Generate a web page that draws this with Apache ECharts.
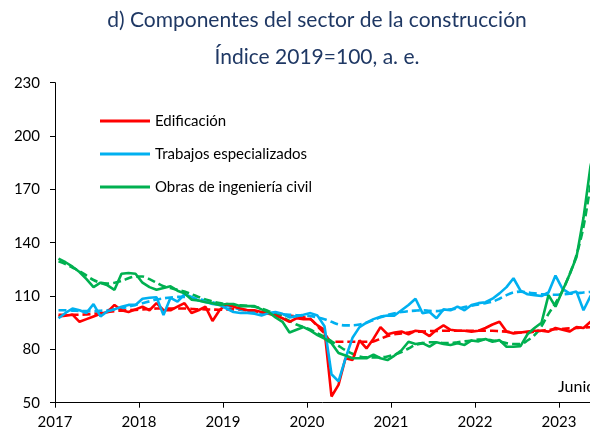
<!DOCTYPE html>
<html>
<head>
<meta charset="utf-8">
<script src="https://cdn.jsdelivr.net/npm/echarts@6/dist/echarts.min.js"></script>
<style>
  html, body { margin: 0; padding: 0; background: #fff; }
  #chart { width: 590px; height: 436px; }
</style>
</head>
<body>
<div id="chart"></div>
<script>
// Monthly data, Jan 2017 .. Jun 2023 (index 0 = Jan 2017)
const yearLabels = ['2017', '2018', '2019', '2020', '2021', '2022', '2023'];
const seriesNames = ['Edificación', 'Trabajos especializados', 'Obras de ingeniería civil'];

const edificacion = [
  98.5, 99, 99.5, 95.5, 97, 98.5, 100, 101, 105, 102, 101, 102.5,
  104, 102, 106, 102, 102, 104, 106, 100.5, 102, 104, 96, 102,
  105.5, 104, 103, 102, 102, 101, 100, 99, 97.5, 95.5, 97.5, 97,
  97, 93.5, 91, 53.5, 60, 75, 74, 85, 80.5, 86, 92.5, 88.5,
  89.5, 90, 88.5, 90.5, 90, 87.5, 91, 93.5, 91, 90.5, 90.5, 90,
  90.5, 92, 94, 95.5, 90, 89, 89.5, 90, 90.5, 90.5, 90, 92,
  91, 90, 92.5, 92, 95.5, 96
];
const edificacionTend = [
  99.5, 99.5, 99.5, 99.5, 99.7, 100, 100.5, 101, 101.5, 101.8, 102, 102.2,
  102.5, 102.7, 103, 103, 103, 103, 103, 102.8, 102.6, 102.5, 102.4, 102.3,
  102.5, 102.5, 102.3, 102, 101.5, 101, 100.5, 100, 99.5, 99, 98.5, 98,
  97, 93, 89, 84.3, 84.3, 84.3, 84.3, 84.3, 84.3, 84.5, 86, 87.5,
  88.5, 89, 89.5, 90, 90, 90.3, 90.3, 90.5, 90.5, 90.5, 90.5, 90.5,
  90.5, 90.5, 90.5, 90.2, 90, 89.5, 89.5, 89.5, 90, 90.5, 91, 91.3,
  91.5, 91.8, 92, 92.3, 92.5, 93
];

const trabajos = [
  97.5, 100.5, 103, 102, 100.5, 105.5, 98.5, 101.5, 102.5, 104, 105, 105,
  108.5, 109, 109.3, 99.3, 109, 106.8, 111, 109.5, 107.5, 106.8, 105.5, 105,
  103, 101, 100.5, 100.5, 100, 99, 100.4, 101, 100, 98, 98.7, 99.5,
  100.4, 99, 93, 66, 62, 75, 86.5, 92.5, 95, 97, 98.4, 99,
  99, 102, 105, 108.5, 100.4, 101, 97.5, 102.5, 102, 104, 102, 105,
  106, 106.5, 108.5, 111.5, 115, 120, 113, 111, 110.5, 110, 112, 121.5,
  114, 111.5, 112.5, 102, 110, 112
];
const trabajosTend = [
  102, 102, 101.8, 101.6, 101.5, 101.5, 101.7, 102, 102.5, 103, 104, 105,
  106, 107, 108, 108.7, 109.2, 109.5, 109.5, 109, 108.3, 107.5, 106.5, 105.5,
  104.5, 103.5, 102.5, 101.8, 101, 100.5, 100.2, 100, 99.7, 99.5, 99.2, 99,
  98.7, 98, 97, 95.5, 94, 93.5, 93.5, 94, 95, 96.5, 98, 99.3,
  100.3, 101, 101.5, 101.8, 102, 101.7, 101.5, 102, 102.5, 103, 103.8, 104.5,
  105.3, 106, 106.8, 108.5, 110.5, 112, 112.5, 112, 111.5, 111, 110.7, 110.7,
  111, 111.3, 111.5, 112, 112.3, 112.5
];

const obras = [
  131, 129, 126.5, 123.5, 119.5, 115, 117.5, 116, 113.5, 122.5, 123, 122.5,
  117.5, 115, 113.5, 114.5, 115.5, 113, 111.5, 108, 107.5, 106.5, 106, 105,
  105.5, 105.5, 104.3, 104.3, 104.3, 102.5, 101, 98, 95.5, 89.5, 91, 92.5,
  90.5, 88, 86, 83.5, 78, 76.5, 75, 75, 75, 77, 75, 74,
  76.5, 79.5, 84.3, 83, 83.5, 81.5, 84, 83, 82.5, 83.5, 82.5, 85,
  84.5, 85.8, 84.3, 85.2, 81.5, 81.5, 81.8, 88.5, 92, 95, 110.5, 104,
  113, 122, 132, 154, 183, 200
];
const obrasTend = [
  129.5, 128, 126, 124, 121.5, 119, 117.5, 117, 117.5, 118.5, 120, 121,
  121, 119.5, 117.5, 115.5, 114.5, 113.5, 112.5, 111, 109.5, 108, 107, 106,
  105.5, 105, 104.8, 104.5, 104, 103, 101.5, 100, 98, 96, 94, 92.5,
  91, 89, 87, 84.5, 82, 79.5, 77.5, 76, 75.5, 75.5, 75.5, 76,
  77, 78.5, 80.5, 82.5, 83.5, 84, 84, 83.5, 83.5, 84, 84.5, 85,
  85.5, 85.5, 85, 84.5, 83.5, 83, 83, 85, 88, 93, 100, 106,
  113, 122, 133, 149, 172, 195
];

const colors = ['#ff0000', '#00b0f0', '#00b050'];
const fontFamily = 'Lato, "Open Sans", sans-serif';

// points sit in the middle of each month
function toPoints(values) {
  return values.map((v, i) => [i + 0.5, v]);
}

function solid(name, values, color) {
  return {
    name: name,
    type: 'line',
    data: toPoints(values),
    showSymbol: false,
    symbol: 'none',
    lineStyle: { color: color, width: 2.6 },
    itemStyle: { color: color },
    z: 3
  };
}

function dashed(name, values, color) {
  return {
    name: name + ' (tendencia)',
    type: 'line',
    data: toPoints(values),
    showSymbol: false,
    symbol: 'none',
    smooth: 0.3,
    lineStyle: { color: color, width: 2.6, type: [8, 4] },
    itemStyle: { color: color },
    z: 2
  };
}

const chart = echarts.init(document.getElementById('chart'));

const option = {
  animation: false,
  backgroundColor: '#fff',
  textStyle: { fontFamily: fontFamily },
  graphic: [
    {
      type: 'text', x: 317, y: 10,
      style: { text: 'd) Componentes del sector de la construcción', fill: '#1f3864',
        font: '21px ' + fontFamily, align: 'center', textAlign: 'center' }
    },
    {
      type: 'text', x: 317, y: 47,
      style: { text: 'Índice 2019=100, a. e.', fill: '#1f3864',
        font: '21px ' + fontFamily, align: 'center', textAlign: 'center' }
    },
    {
      type: 'text', x: 558, y: 379,
      style: { text: 'Junio', fill: '#000', font: '16px ' + fontFamily }
    }
  ],
  legend: {
    data: seriesNames,
    orient: 'vertical',
    left: 95,
    top: 107,
    icon: 'rect',
    itemWidth: 50,
    itemHeight: 3,
    itemGap: 15,
    textStyle: { fontSize: 15, color: '#000', lineHeight: 18, fontFamily: fontFamily }
  },
  grid: { left: 55, right: 0, top: 82.7, bottom: 33.3 },
  xAxis: {
    type: 'value',
    min: 0,
    max: 76.43,
    interval: 12,
    axisLine: { show: true, lineStyle: { color: '#000', width: 1 } },
    axisTick: { show: true, length: 5, lineStyle: { color: '#000' }, customValues: [0, 12, 24, 36, 48, 60, 72] },
    axisLabel: {
      customValues: [0, 12, 24, 36, 48, 60, 72],
      color: '#000', fontSize: 15, margin: 12, fontFamily: fontFamily,
      formatter: v => yearLabels[Math.round(v / 12)] || ''
    },
    splitLine: { show: false }
  },
  yAxis: {
    type: 'value',
    min: 50,
    max: 230,
    interval: 30,
    axisLine: { show: true, lineStyle: { color: '#000', width: 1 } },
    axisTick: { show: true, length: 5, lineStyle: { color: '#000' } },
    axisLabel: { color: '#000', fontSize: 15, margin: 15, fontFamily: fontFamily },
    splitLine: { show: false }
  },
  series: [
    dashed(seriesNames[0], edificacionTend, colors[0]),
    dashed(seriesNames[1], trabajosTend, colors[1]),
    dashed(seriesNames[2], obrasTend, colors[2]),
    solid(seriesNames[0], edificacion, colors[0]),
    solid(seriesNames[1], trabajos, colors[1]),
    solid(seriesNames[2], obras, colors[2])
  ]
};

chart.setOption(option);
</script>
</body>
</html>
